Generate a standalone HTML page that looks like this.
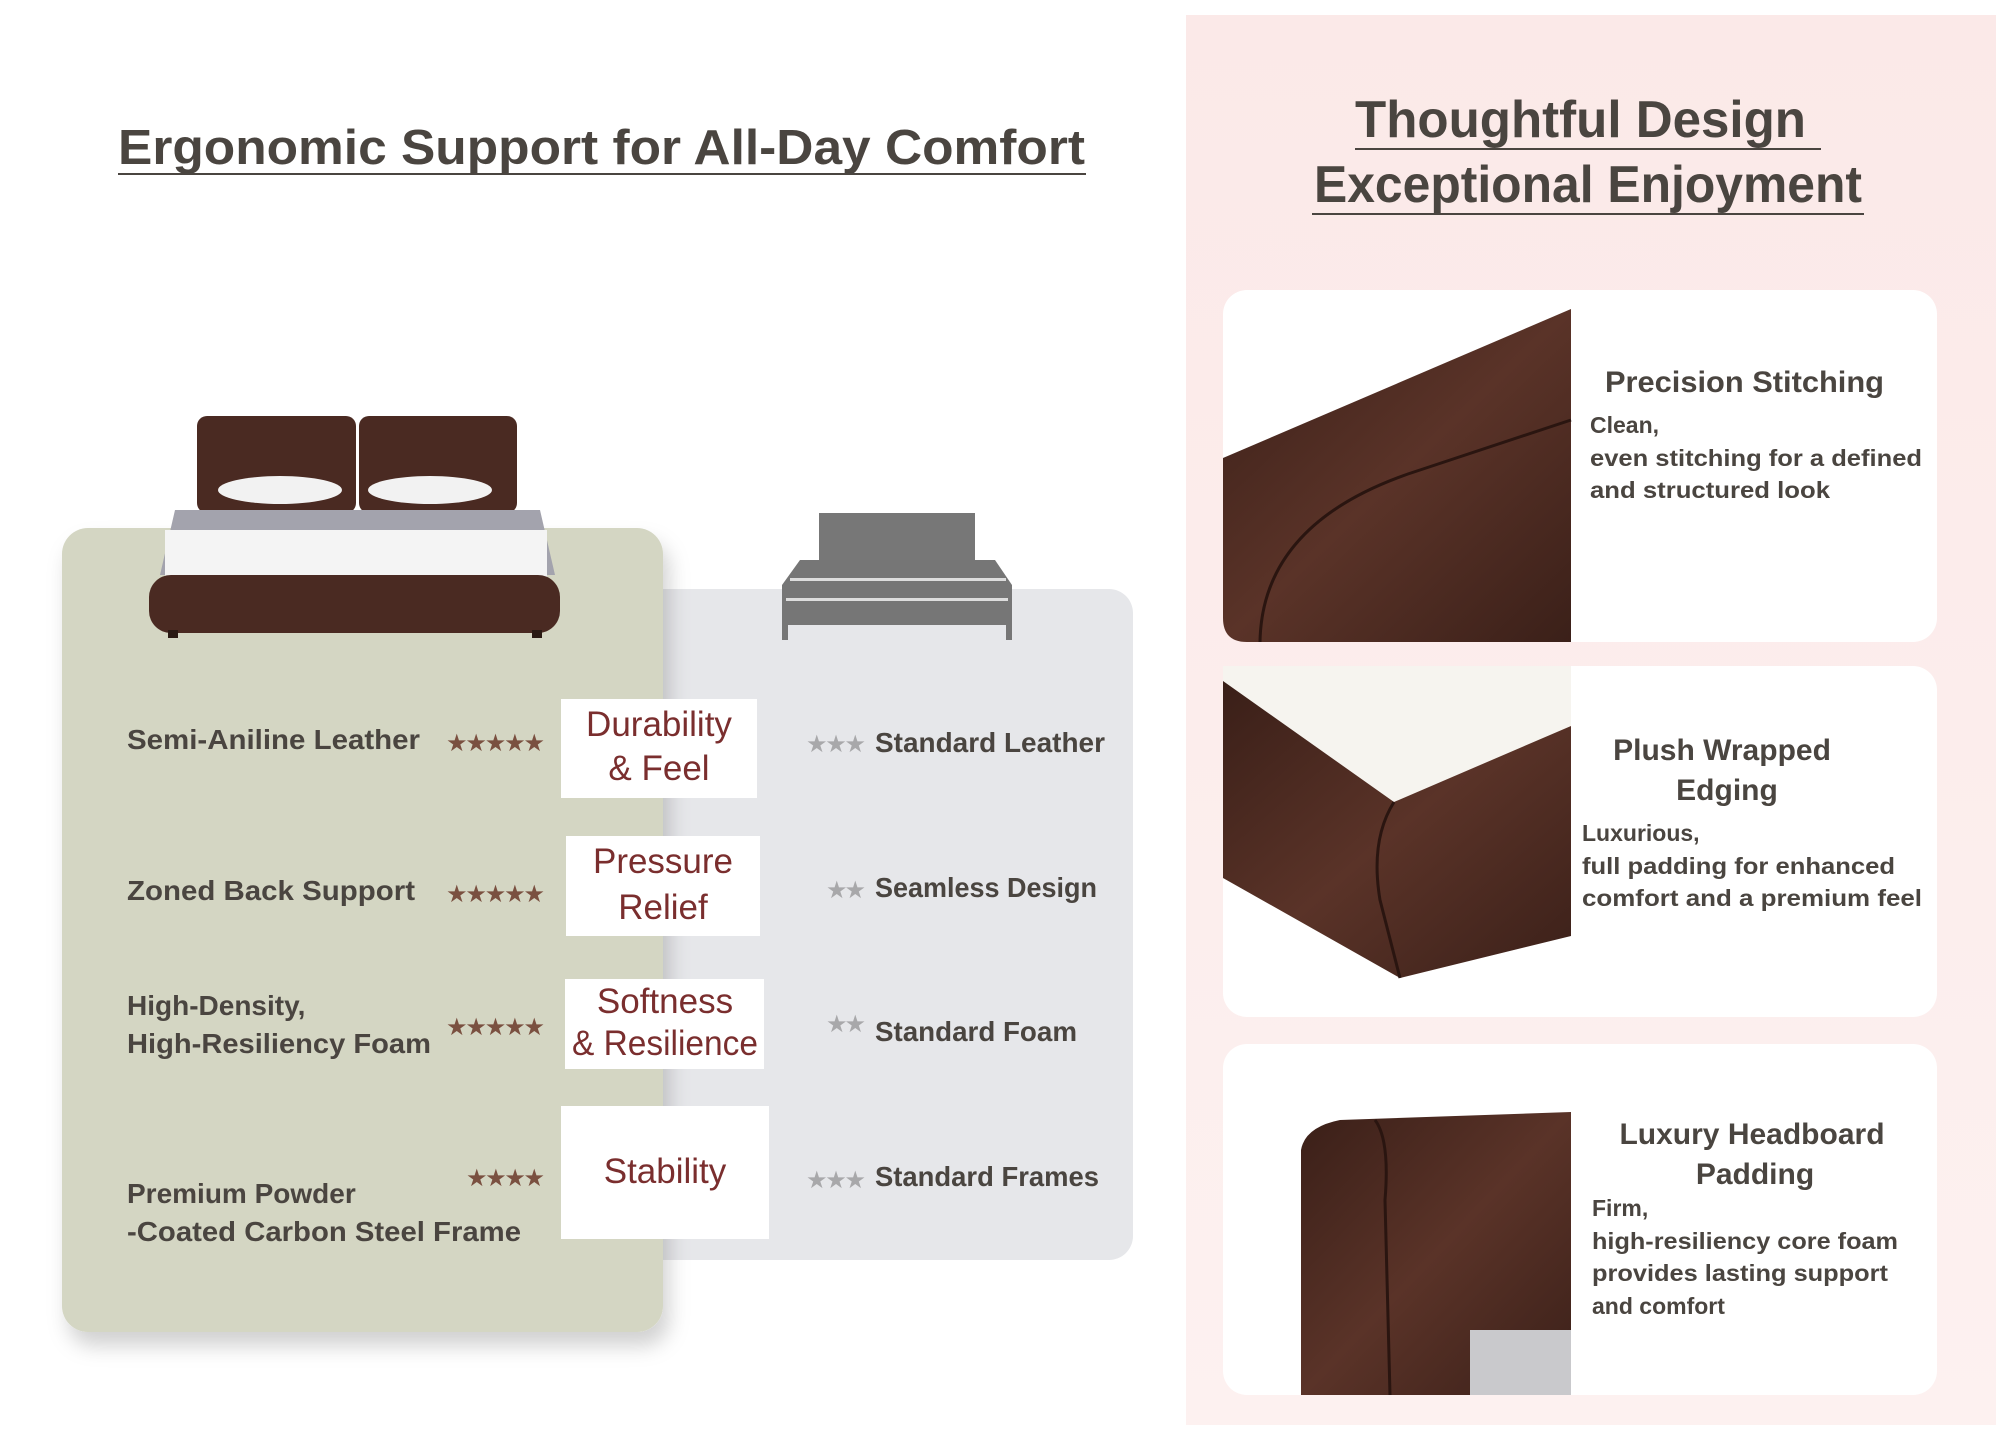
<!DOCTYPE html>
<html><head><meta charset="utf-8"><style>
html,body{margin:0;padding:0;background:#fff;width:1996px;height:1440px;overflow:hidden}
svg{display:block}
text{font-family:"Liberation Sans",sans-serif}
</style></head><body>
<svg width="1996" height="1440" viewBox="0 0 1996 1440" xmlns="http://www.w3.org/2000/svg">
<defs>
<linearGradient id="pink" x1="0" y1="0" x2="0" y2="1"><stop offset="0" stop-color="#fbe9e8"/><stop offset="1" stop-color="#fdf1f0"/></linearGradient>
<linearGradient id="lea" x1="0" y1="0" x2="1" y2="1"><stop offset="0" stop-color="#3a1f18"/><stop offset=".5" stop-color="#5a3328"/><stop offset="1" stop-color="#3b2019"/></linearGradient>
<filter id="sh" x="-10%" y="-10%" width="130%" height="130%"><feDropShadow dx="6" dy="14" stdDeviation="10" flood-color="#000" flood-opacity=".18"/></filter>
</defs>
<rect x="1186" y="15" width="810" height="1410" fill="url(#pink)"/>
<text x="118" y="164" font-size="49" font-weight="bold" fill="#4a4540" textLength="967" lengthAdjust="spacingAndGlyphs">Ergonomic Support for All-Day Comfort</text>
<rect x="118" y="173" width="968" height="2" fill="#4a4540"/>
<text x="1355" y="137" font-size="52" font-weight="bold" fill="#4a4540" textLength="451" lengthAdjust="spacingAndGlyphs">Thoughtful Design</text>
<rect x="1355" y="148" width="466" height="2" fill="#4a4540"/>
<text x="1314" y="202" font-size="52" font-weight="bold" fill="#4a4540" textLength="548" lengthAdjust="spacingAndGlyphs">Exceptional Enjoyment</text>
<rect x="1312" y="213" width="552" height="2" fill="#4a4540"/>
<rect x="1223" y="290" width="714" height="352" rx="24" fill="#fff"/>
<rect x="1223" y="666" width="714" height="351" rx="24" fill="#fff"/>
<rect x="1223" y="1044" width="714" height="351" rx="24" fill="#fff"/>
<path d="M1223 458 L1571 309 L1571 642 L1247 642 Q1223 642 1223 618 Z" fill="url(#lea)"/>
<path d="M1260 642 Q1262 520 1420 470 L1571 420" stroke="#2a1510" stroke-width="3" fill="none"/>
<path d="M1223 666 L1571 666 L1571 936 L1400 978 L1223 878 Z" fill="#f6f4ef"/>
<path d="M1223 681 L1394 802 L1571 726 L1571 936 L1400 978 L1223 878 Z" fill="url(#lea)"/>
<path d="M1394 802 Q1370 840 1380 900 L1400 978" stroke="#2a1510" stroke-width="3" fill="none"/>
<path d="M1301 1395 L1301 1150 Q1305 1127 1340 1120 L1571 1112 L1571 1395 Z" fill="url(#lea)"/>
<path d="M1375 1120 Q1390 1140 1385 1200 L1390 1395" stroke="#2a1510" stroke-width="3" fill="none"/>
<rect x="1470" y="1330" width="101" height="65" fill="#c9c9cc"/>
<g fill="#4a4540" font-weight="bold">
<text x="1605" y="392" font-size="30" textLength="279" lengthAdjust="spacingAndGlyphs">Precision Stitching</text>
<g font-size="23">
<text x="1590" y="433">Clean,</text>
<text x="1590" y="466" textLength="332" lengthAdjust="spacingAndGlyphs">even stitching for a defined</text>
<text x="1590" y="498" textLength="240" lengthAdjust="spacingAndGlyphs">and structured look</text>
</g>
<text x="1722" y="760" font-size="30" text-anchor="middle">Plush Wrapped</text>
<text x="1727" y="800" font-size="30" text-anchor="middle">Edging</text>
<g font-size="23">
<text x="1582" y="841">Luxurious,</text>
<text x="1582" y="874" textLength="313" lengthAdjust="spacingAndGlyphs">full padding for enhanced</text>
<text x="1582" y="906" textLength="340" lengthAdjust="spacingAndGlyphs">comfort and a premium feel</text>
</g>
<text x="1752" y="1144" font-size="30" text-anchor="middle">Luxury Headboard</text>
<text x="1755" y="1184" font-size="30" text-anchor="middle">Padding</text>
<g font-size="23">
<text x="1592" y="1216">Firm,</text>
<text x="1592" y="1249" textLength="306" lengthAdjust="spacingAndGlyphs">high-resiliency core foam</text>
<text x="1592" y="1281" textLength="296" lengthAdjust="spacingAndGlyphs">provides lasting support</text>
<text x="1592" y="1314">and comfort</text>
</g>
</g>
<rect x="640" y="589" width="493" height="671" rx="24" fill="#e6e7ea"/>
<rect x="62" y="528" width="601" height="804" rx="26" fill="#d4d6c3" filter="url(#sh)"/>
<rect x="561" y="699" width="196" height="99" fill="#fff"/>
<rect x="566" y="836" width="194" height="100" fill="#fff"/>
<rect x="565" y="979" width="199" height="90" fill="#fff"/>
<rect x="561" y="1106" width="208" height="133" fill="#fff"/>
<g fill="#7a2e2e" font-size="35" text-anchor="middle">
<text x="659" y="736">Durability</text><text x="659" y="780">&amp; Feel</text>
<text x="663" y="873">Pressure</text><text x="663" y="919">Relief</text>
<text x="665" y="1013">Softness</text><text x="665" y="1055" textLength="186" lengthAdjust="spacingAndGlyphs">&amp; Resilience</text>
<text x="665" y="1183">Stability</text>
</g>
<g fill="#4a4540" font-weight="bold" font-size="28">
<text x="127" y="749" textLength="293" lengthAdjust="spacingAndGlyphs">Semi-Aniline Leather</text>
<text x="127" y="900" textLength="288" lengthAdjust="spacingAndGlyphs">Zoned Back Support</text>
<text x="127" y="1015">High-Density,</text>
<text x="127" y="1053" textLength="304" lengthAdjust="spacingAndGlyphs">High-Resiliency Foam</text>
<text x="127" y="1203">Premium Powder</text>
<text x="127" y="1241" textLength="394" lengthAdjust="spacingAndGlyphs">-Coated Carbon Steel Frame</text>
</g>
<g fill="#7a5040" font-size="24">
<text x="446" y="751" textLength="99">★★★★★</text>
<text x="446" y="902" textLength="99">★★★★★</text>
<text x="446" y="1035" textLength="99">★★★★★</text>
<text x="466" y="1186" textLength="79">★★★★</text>
</g>
<g fill="#a8a8aa" font-size="24">
<text x="806" y="752" textLength="60">★★★</text>
<text x="826" y="898" textLength="40">★★</text>
<text x="826" y="1032" textLength="40">★★</text>
<text x="806" y="1188" textLength="60">★★★</text>
</g>
<g fill="#4a4540" font-weight="bold" font-size="28">
<text x="875" y="752" textLength="230" lengthAdjust="spacingAndGlyphs">Standard Leather</text>
<text x="875" y="897" textLength="222" lengthAdjust="spacingAndGlyphs">Seamless Design</text>
<text x="875" y="1041" textLength="202" lengthAdjust="spacingAndGlyphs">Standard Foam</text>
<text x="875" y="1186" textLength="224" lengthAdjust="spacingAndGlyphs">Standard Frames</text>
</g>
<rect x="197" y="416" width="159" height="97" rx="10" fill="#4a2a22"/>
<rect x="359" y="416" width="158" height="97" rx="10" fill="#4a2a22"/>
<ellipse cx="280" cy="490" rx="62" ry="14" fill="#f2f2f2"/>
<ellipse cx="430" cy="490" rx="62" ry="14" fill="#f2f2f2"/>
<path d="M175 510 L540 510 L555 575 L160 575 Z" fill="#a3a3ad"/>
<rect x="165" y="530" width="382" height="50" fill="#f4f4f4"/>
<rect x="149" y="575" width="411" height="58" rx="22" fill="#4a2a22"/>
<rect x="168" y="630" width="10" height="8" fill="#2a1a14"/><rect x="532" y="630" width="10" height="8" fill="#2a1a14"/>
<rect x="819" y="513" width="156" height="47" fill="#777"/>
<path d="M800 560 L995 560 L1012 585 L1012 625 L782 625 L782 585 Z" fill="#767676"/>
<rect x="790" y="578" width="216" height="3" fill="#ddd"/><rect x="786" y="598" width="222" height="3" fill="#ddd"/>
<rect x="782" y="625" width="6" height="15" fill="#767676"/><rect x="1006" y="625" width="6" height="15" fill="#767676"/>
</svg>
</body></html>
